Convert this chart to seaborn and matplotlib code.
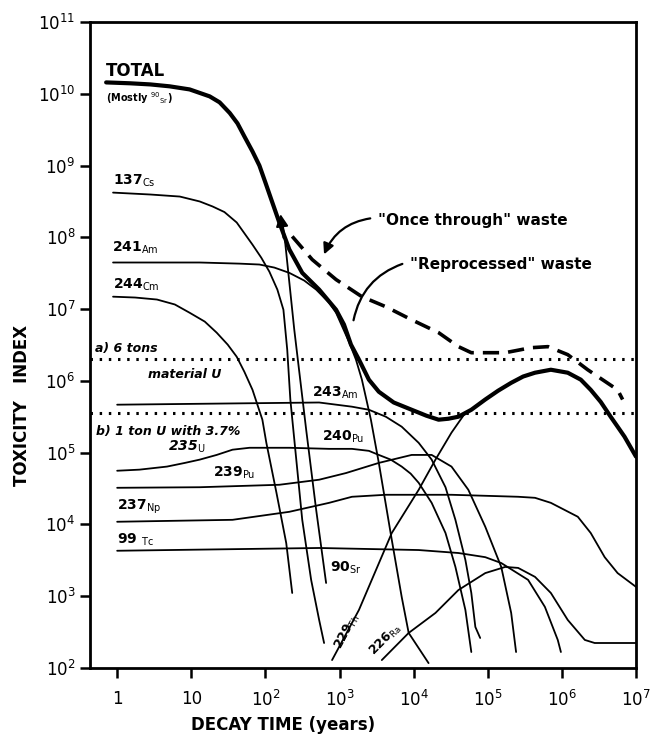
import numpy as np
import pandas as pd
import seaborn as sns
import matplotlib.pyplot as plt

# decay time (years) and toxicity index
total_t = [0.71, 1.49, 2.8, 5.1, 9.5, 17.7, 24.1, 33, 42, 52, 67, 83, 100, 120, 154, 210, 314,
           531, 898, 1148, 1427, 1828, 2490, 3390, 5390, 9400, 1.49e4, 2.17e4, 2.95e4, 4.02e4,
           6.0e4, 9.25e4, 1.38e5, 2.07e5, 3.0e5, 4.34e5, 7.1e5, 1.2e6, 1.8e6, 2.45e6, 3.34e6,
           4.55e6, 5.65e6, 7.0e6, 1e7]
total_tox = [1.44e10, 1.4e10, 1.35e10, 1.27e10, 1.15e10, 9.2e9, 7.6e9, 5.4e9, 3.87e9, 2.55e9,
             1.57e9, 1.0e9, 5.8e8, 3.37e8, 1.61e8, 6.8e7, 3.2e7, 1.87e7, 9.8e6, 6.1e6, 3.2e6,
             1.98e6, 1.04e6, 7.06e5, 5.0e5, 3.96e5, 3.27e5, 2.88e5, 2.97e5, 3.17e5, 3.96e5, 5.5e5,
             7.3e5, 9.4e5, 1.15e6, 1.3e6, 1.43e6, 1.3e6, 1.04e6, 7.5e5, 5.1e5, 3.17e5, 2.3e5,
             1.67e5, 8.8e4]

once_t = [230, 428, 898, 2004, 4210, 9400, 2.17e4, 4.02e4, 6.0e4, 1.72e5, 3.84e5, 6.5e5, 1.2e6,
          2.23e6, 5.65e6, 6.6e6]
once_tox = [1.03e8, 4.9e7, 2.58e7, 1.49e7, 1.08e7, 7.1e6, 4.7e6, 3.0e6, 2.47e6, 2.47e6, 2.9e6,
            3.0e6, 2.32e6, 1.43e6, 7.5e5, 5.5e5]

cs137_t = [0.88, 2.8, 7.0, 13, 19.4, 28, 41, 67, 88, 113, 145, 175, 197, 217, 261, 314, 414, 531, 619]
cs137_tox = [4.2e8, 3.95e8, 3.7e8, 3.16e8, 2.69e8, 2.25e8, 1.61e8, 7.9e7, 5.2e7, 3.33e7, 1.87e7,
             9.8e6, 2.72e6, 5.5e5, 8.0e4, 1.16e4, 1.69e3, 467, 223]

sr90_t = [169, 180, 245, 355, 484, 659]
sr90_tox = [1.6e8, 1.1e8, 5.2e6, 2.08e5, 1.6e4, 1.53e3]

am241_t = [0.88, 13, 45, 83, 132, 210, 334, 484, 723, 898, 1342, 1665, 2004, 2650, 3390, 5070,
           6900, 8570, 1.59e4]
am241_tox = [4.46e7, 4.46e7, 4.3e7, 4.18e7, 3.79e7, 3.2e7, 2.5e7, 1.87e7, 1.23e7, 8.9e6, 3.5e6,
             1.98e6, 1.04e6, 2.88e5, 7.2e4, 6.1e3, 977, 308, 117]

cm244_t = [0.88, 1.75, 3.44, 6.0, 9.5, 15.2, 22, 31, 41, 52, 67, 78, 91, 103, 141, 191, 230]
cm244_tox = [1.49e7, 1.45e7, 1.36e7, 1.16e7, 8.9e6, 6.7e6, 4.7e6, 3.2e6, 2.17e6, 1.34e6, 7.5e5,
             4.66e5, 2.88e5, 1.37e5, 2.76e4, 5.5e3, 1.11e3]

am243_t = [1, 531, 1472, 2490, 4210, 6900, 1.17e4, 1.75e4, 2.69e4, 3.66e4, 4.99e4, 6.0e4, 6.8e4, 7.9e4]
am243_tox = [4.66e5, 5.0e5, 4.37e5, 3.96e5, 3.17e5, 2.3e5, 1.37e5, 8.0e4, 3.3e4, 1.16e4, 3.2e3,
             1.11e3, 373, 262]

pu240_t = [1, 2.0, 4.7, 8.2, 13, 22, 36, 61, 210, 723, 1472, 2490, 3390, 4910, 6900, 9120, 1.17e4,
           1.75e4, 2.69e4, 3.66e4, 4.99e4, 6.0e4]
pu240_tox = [5.6e4, 5.8e4, 6.4e4, 7.2e4, 8.0e4, 9.3e4, 1.1e5, 1.17e5, 1.17e5, 1.13e5, 1.13e5,
             1.06e5, 9.3e4, 8.0e4, 6.4e4, 5.1e4, 3.8e4, 2.0e4, 7.6e3, 2.56e3, 644, 167]

pu239_t = [1, 13, 154, 531, 1222, 3390, 9400, 1.75e4, 3.24e4, 5.47e4, 9.25e4, 1.52e5, 2.07e5, 2.41e5]
pu239_tox = [3.24e4, 3.3e4, 3.57e4, 4.2e4, 5.2e4, 7.2e4, 9.3e4, 9.3e4, 6.4e4, 3.04e4, 9.3e3,
             2.56e3, 585, 167]

np237_t = [1, 36, 210, 723, 1472, 4210, 3.24e4, 2.57e5, 4.34e5, 7.1e5, 1.64e6, 2.45e6, 3.78e6,
           5.65e6, 1e7]
np237_tox = [1.09e4, 1.16e4, 1.5e4, 2.0e4, 2.43e4, 2.59e4, 2.59e4, 2.43e4, 2.35e4, 2.0e4, 1.28e4,
             7.6e3, 3.5e3, 2.1e3, 1.35e3]

tc99_t = [1, 531, 1.17e4, 4.02e4, 9.25e4, 1.52e5, 3.5e5, 5.9e5, 8.8e5, 9.7e5]
tc99_tox = [4.3e3, 4.7e3, 4.4e3, 4.0e3, 3.5e3, 2.9e3, 1.69e3, 710, 246, 167]

ra226_t = [3720, 8570, 1.97e4, 4.02e4, 9.25e4, 1.72e5, 2.57e5, 4.34e5, 7.1e5, 1.2e6, 2.04e6,
           2.77e6, 1e7]
ra226_tox = [129, 308, 585, 1.22e3, 2.1e3, 2.56e3, 2.48e3, 1.86e3, 1.11e3, 467, 246, 223, 223]

th229_t = [793, 1828, 5070, 1.17e4, 1.97e4, 3.24e4, 4.99e4, 6.0e4]
th229_tox = [129, 644, 7.6e3, 3.04e4, 8.0e4, 1.9e5, 3.6e5, 3.96e5]

# reference levels: a) 6 tons of material U, b) 1 ton U with 3.7% 235U
ore_6t = 2.0e6
ore_1t = 3.6e5

xtick_vals = [1, 10, 1e2, 1e3, 1e4, 1e5, 1e6, 1e7]
xtick_labels = ["1", "10", "$10^2$", "$10^3$", "$10^4$", "$10^5$", "$10^6$", "$10^7$"]
ytick_vals = [1e2, 1e3, 1e4, 1e5, 1e6, 1e7, 1e8, 1e9, 1e10, 1e11]
ytick_labels = ["$10^{%d}$" % k for k in range(2, 12)]

sns.set_style("ticks")
plt.rcParams['font.family'] = ['DejaVu Sans']
plt.rcParams['mathtext.fontset'] = 'dejavusans'
plt.rcParams['axes.edgecolor'] = 'black'
plt.rcParams['xtick.color'] = 'black'
plt.rcParams['ytick.color'] = 'black'
plt.rcParams['text.color'] = 'black'

fig = plt.figure(figsize=(6.51, 7.37), dpi=100)
ax = fig.add_axes([90 / 651, 1 - 668 / 737, 546 / 651, 646 / 737])
ax.set(xscale="log", yscale="log")

thin = [(cs137_t, cs137_tox), (sr90_t, sr90_tox), (am241_t, am241_tox), (cm244_t, cm244_tox),
        (am243_t, am243_tox), (pu240_t, pu240_tox), (pu239_t, pu239_tox), (np237_t, np237_tox),
        (tc99_t, tc99_tox), (ra226_t, ra226_tox), (th229_t, th229_tox)]
for t, tox in thin:
    df = pd.DataFrame({"t": t, "tox": tox})
    sns.lineplot(data=df, x="t", y="tox", sort=False, estimator=None, color="black",
                 linewidth=1.3, ax=ax)

df_total = pd.DataFrame({"t": total_t, "tox": total_tox})
sns.lineplot(data=df_total, x="t", y="tox", sort=False, estimator=None, color="black",
             linewidth=3.0, ax=ax)
df_once = pd.DataFrame({"t": once_t, "tox": once_tox})
sns.lineplot(data=df_once, x="t", y="tox", sort=False, estimator=None, color="black",
             linewidth=2.6, linestyle=(0, (4.5, 2.5)), ax=ax)

for lev in [ore_6t, ore_1t]:
    ax.axhline(lev, color="black", linewidth=2.2, linestyle=(0, (0.8, 2.2)))

ax.set_xlim(0.43, 1e7)
ax.set_ylim(1e2, 1e11)
ax.set_xticks(xtick_vals)
ax.set_xticklabels(xtick_labels, fontsize=12)
ax.set_yticks(ytick_vals)
ax.set_yticklabels(ytick_labels, fontsize=12)
ax.minorticks_off()
ax.tick_params(axis="both", direction="out", length=7, width=1.8)
ax.tick_params(axis="x", pad=9)
ax.set_xlabel("")
ax.set_ylabel("")
for s in ax.spines.values():
    s.set_linewidth(2.0)
    s.set_visible(True)

# little arrowhead where the 90Sr curve leaves the total
ax.annotate("", xy=(158, 2.3e8), xytext=(178, 9e7),
            arrowprops=dict(arrowstyle="-|>", color="black", lw=1.5, mutation_scale=18))


def fp(x, y):
    return (x / 651, 1 - y / 737)


def label(x, y, s, size=10, **kw):
    fig.text(*fp(x, y), s, fontsize=size, va="center", ha="left", fontweight="bold", **kw)


label(106, 71, "TOTAL", 12)
label(106, 98, r"(Mostly $^{90}{}_{\rm Sr}$)", 7)
label(113, 181, r"137$_{\rm Cs}$", 10)
label(112, 248, r"241$_{\rm Am}$", 10)
label(113, 285, r"244$_{\rm Cm}$", 10)
label(95, 348, "a) 6 tons", 9, style="italic")
label(148, 375, "material U", 9, style="italic")
label(96, 432, "b) 1 ton U with 3.7%", 9, style="italic")
label(168, 447, r"235$_{\rm U}$", 10, style="italic")
label(312, 393, r"243$_{\rm Am}$", 10)
label(322, 437, r"240$_{\rm Pu}$", 10)
label(213, 473, r"239$_{\rm Pu}$", 10)
label(117, 507, r"237$_{\rm Np}$", 10)
label(117, 540, r"99 $_{\rm Tc}$", 10)
label(330, 568, r"90$_{\rm Sr}$", 10)
fig.text(*fp(347, 632), r"229$_{\rm Th}$", fontsize=9, fontweight="bold", rotation=62,
         ha="center", va="center")
fig.text(*fp(385, 640), r"226$_{\rm Ra}$", fontsize=9, fontweight="bold", rotation=45,
         ha="center", va="center")
label(378, 220, '"Once through" waste', 11)
label(410, 265, '"Reprocessed" waste', 11)

ax.annotate("", xy=(323, 737 - 257), xycoords="figure pixels", xytext=(373, 737 - 218),
            textcoords="figure pixels",
            arrowprops=dict(arrowstyle="-|>", color="black", lw=1.6, mutation_scale=16,
                            connectionstyle="arc3,rad=0.3"))
ax.annotate("", xy=(353, 737 - 323), xycoords="figure pixels", xytext=(405, 737 - 263),
            textcoords="figure pixels",
            arrowprops=dict(arrowstyle="-", color="black", lw=1.6,
                            connectionstyle="arc3,rad=0.3"))

fig.text(*fp(22, 405), "TOXICITY   INDEX", fontsize=12, fontweight="bold", rotation=90,
         ha="center", va="center")
fig.text(*fp(283, 725), "DECAY TIME (years)", fontsize=12, fontweight="bold",
         ha="center", va="center")

fig.savefig("out.png", dpi=100)
